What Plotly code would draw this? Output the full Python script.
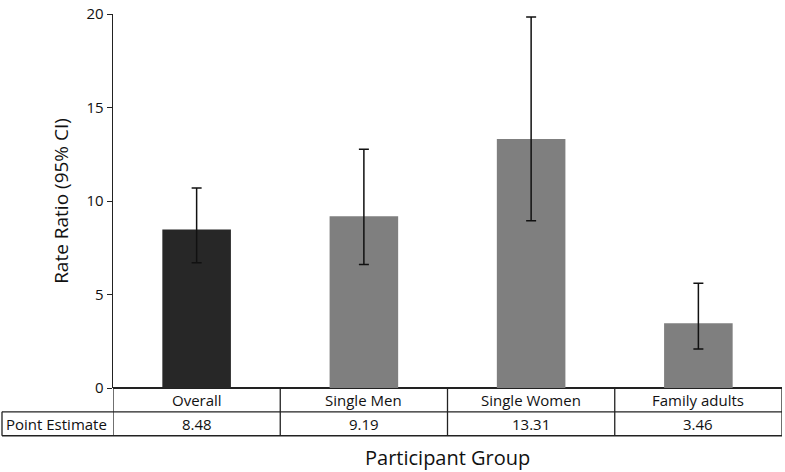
import plotly.graph_objects as go

categories = ["Overall", "Single Men", "Single Women", "Family adults"]
estimates = [8.48, 9.19, 13.31, 3.46]
ci_upper = [10.69, 12.77, 19.84, 5.60]
ci_lower = [6.70, 6.60, 8.94, 2.09]
estimate_labels = ["8.48", "9.19", "13.31", "3.46"]
bar_colors = ["#272727", "#7f7f7f", "#7f7f7f", "#7f7f7f"]
y_ticks = [0, 5, 10, 15, 20]

FONT = "Open Sans"
W, H = 785, 472
ml, mr, mt, mb = 113, 3, 12, 84
ph = H - mt - mb
pw = W - ml - mr

err_plus = [u - e for u, e in zip(ci_upper, estimates)]
err_minus = [e - l for e, l in zip(estimates, ci_lower)]
xs = list(range(len(categories)))

fig = go.Figure(go.Bar(
    x=xs, y=estimates, width=0.41,
    marker=dict(color=bar_colors, line=dict(width=0)),
    error_y=dict(type="data", symmetric=False, array=err_plus, arrayminus=err_minus,
                 color="#111111", thickness=1.5, width=5),
    hoverinfo="skip",
))

def py(px):  # pixel offset below plot bottom -> paper y
    return -px / ph

left_edge = -(ml - 2) / pw
row1_top, row1_bot, row2_bot = 0, 24, 48
shapes = []
line = dict(color="#222222", width=1.3)
shapes.append(dict(type="line", xref="x", yref="paper", x0=-0.5, x1=3.5, y0=py(row1_bot), y1=py(row1_bot), line=line))
shapes.append(dict(type="line", xref="paper", yref="paper", x0=left_edge, x1=0, y0=py(row1_bot), y1=py(row1_bot), line=line))
shapes.append(dict(type="line", xref="paper", yref="paper", x0=left_edge, x1=1, y0=py(row2_bot), y1=py(row2_bot), line=line))
for b in [-0.5, 0.5, 1.5, 2.5, 3.5]:
    shapes.append(dict(type="line", xref="x", yref="paper", x0=b, x1=b, y0=py(row1_top), y1=py(row2_bot), line=line))
shapes.append(dict(type="line", xref="paper", yref="paper", x0=left_edge, x1=left_edge, y0=py(row1_bot), y1=py(row2_bot), line=line))

annotations = []
for i, (c, v) in enumerate(zip(categories, estimate_labels)):
    annotations.append(dict(x=i, y=py((row1_top + row1_bot) / 2), xref="x", yref="paper", text=c,
                            showarrow=False, font=dict(size=15, color="#111111", family=FONT), yanchor="middle"))
    annotations.append(dict(x=i, y=py((row1_bot + row2_bot) / 2), xref="x", yref="paper", text=v,
                            showarrow=False, font=dict(size=15, color="#111111", family=FONT), yanchor="middle"))
annotations.append(dict(x=-(ml - 4) / pw, y=py((row1_bot + row2_bot) / 2), xref="paper", yref="paper",
                        text="Point Estimate", showarrow=False, xanchor="left", yanchor="middle",
                        font=dict(size=15, color="#111111", family=FONT)))
annotations.append(dict(x=0.5, y=py(70), xref="paper", yref="paper", text="Participant Group",
                        showarrow=False, yanchor="middle", font=dict(size=20, color="#111111", family=FONT)))

fig.update_layout(
    width=W, height=H, margin=dict(l=ml, r=mr, t=mt, b=mb),
    paper_bgcolor="white", plot_bgcolor="white", showlegend=False,
    font=dict(family=FONT, color="#111111"),
    xaxis=dict(range=[-0.5, 3.5], showticklabels=False, ticks="", showgrid=False, zeroline=False,
               showline=False, fixedrange=True),
    yaxis=dict(range=[0, 20], tickvals=y_ticks, ticks="outside", ticklen=5, tickcolor="#222222",
               showline=True, linecolor="#222222", linewidth=1.3, showgrid=False, zeroline=True,
               zerolinecolor="#222222", zerolinewidth=1.3, fixedrange=True,
               tickfont=dict(size=15, color="#111111", family=FONT),
               title=dict(text="Rate Ratio (95% CI)", font=dict(size=19, color="#111111", family=FONT), standoff=13)),
    shapes=shapes, annotations=annotations,
)
fig.write_html("out.html", config={"displayModeBar": False, "staticPlot": True},
               post_script="document.body.style.margin='0px';document.body.style.overflow='hidden';")
